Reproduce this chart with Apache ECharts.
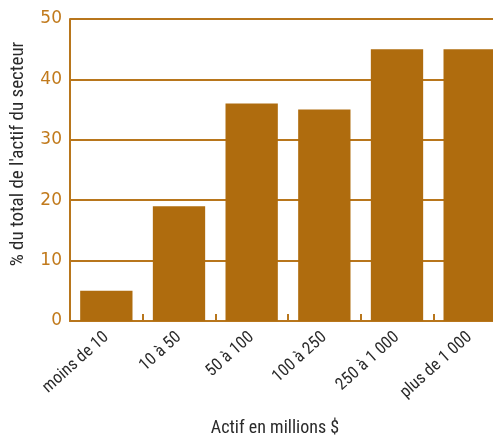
<!DOCTYPE html>
<html><head><meta charset="utf-8">
<script src="https://cdn.jsdelivr.net/npm/echarts@6/dist/echarts.min.js"></script>
<style>html,body{margin:0;padding:0;background:#fff;overflow:hidden}#c{width:512px;height:435px}</style>
</head><body><div id="c"></div>
<script>
const categories = ['moins de 10', '10 à 50', '50 à 100', '100 à 250', '250 à 1 000', 'plus de 1 000'];
const values = [5, 19, 36, 35, 45, 45];
const yTicks = [0, 10, 20, 30, 40, 50];
const yTitle = "% du total de l'actif du secteur";
const xTitle = 'Actif en millions $';

const orange = '#b8761c';
const cond = 'Roboto Condensed, Liberation Sans, sans-serif';
const chart = echarts.init(document.getElementById('c'), null, {renderer: 'canvas'});
chart.setOption({
  animation: false,
  grid: {left: 70, top: 19, width: 436, height: 302, containLabel: false},
  xAxis: {
    type: 'category', data: categories,
    axisLine: {lineStyle: {color: orange, width: 2}},
    axisTick: {show: true, inside: true, length: 7, lineStyle: {color: orange, width: 2}},
    axisLabel: {rotate: 42, color: '#2a2a2a', fontSize: 17, fontFamily: cond, margin: 14},
  },
  yAxis: {
    type: 'value', min: 0, max: 50, interval: 10,
    axisLine: {show: true, lineStyle: {color: orange, width: 2}},
    axisTick: {show: false},
    splitLine: {lineStyle: {color: orange, width: 2}},
    axisLabel: {color: '#c17a1c', fontSize: 17, fontFamily: 'DejaVu Sans, sans-serif', margin: 8,
      formatter: v => yTicks.includes(v) ? String(v) : ''}
  },
  series: [{
    type: 'bar', data: values, barWidth: '72%',
    itemStyle: {color: '#af6c0e'}
  }],
  graphic: [{
    type: 'text', x: 275, y: 428,
    style: {text: xTitle, fill: '#2a2a2a', fontSize: 18, fontFamily: cond, align: 'center', verticalAlign: 'middle'}
  }, {
    type: 'text', x: 18, y: 154, rotation: Math.PI / 2,
    style: {text: yTitle, fill: '#2a2a2a', fontSize: 19, fontFamily: cond, align: 'center', verticalAlign: 'middle'}
  }]
});
</script></body></html>
